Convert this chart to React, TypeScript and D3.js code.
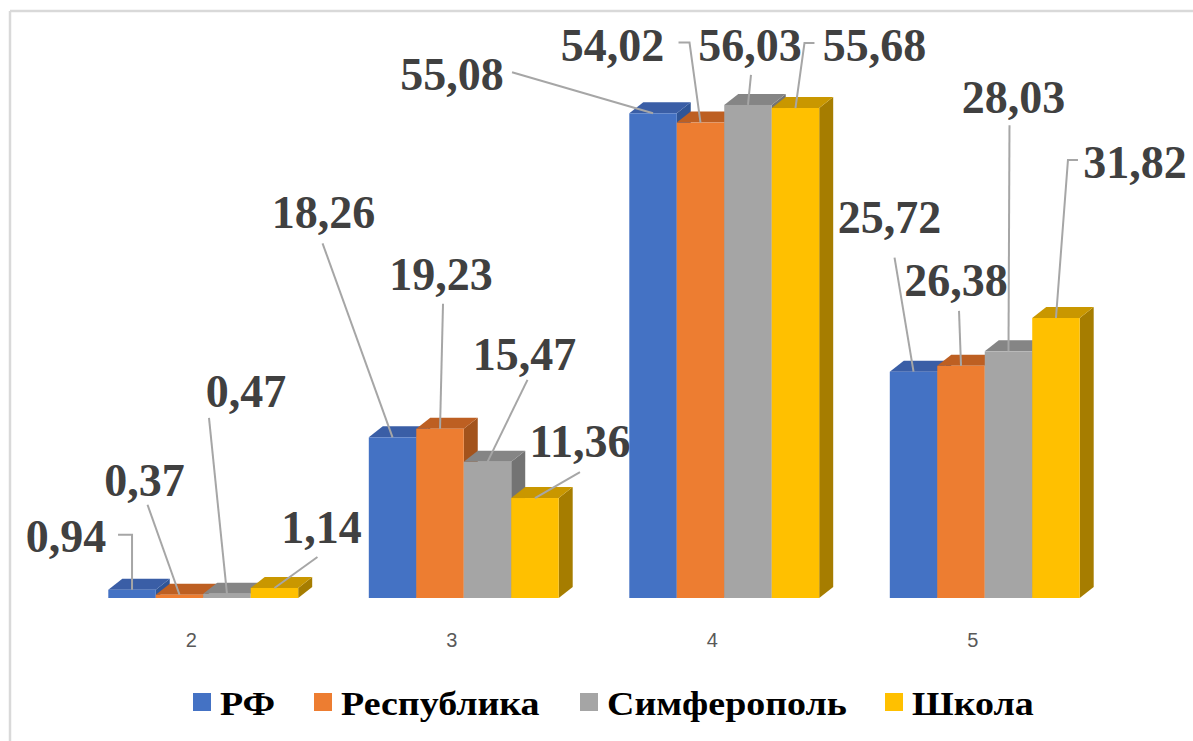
import React from 'react';
import * as d3 from 'd3';

const categories = ['2', '3', '4', '5'];
const seriesNames = ['РФ', 'Республика', 'Симферополь', 'Школа'];
const rfValues = [0.94, 18.26, 55.08, 25.72];
const respublikaValues = [0.37, 19.23, 54.02, 26.38];
const simferopolValues = [0.47, 15.47, 56.03, 28.03];
const shkolaValues = [1.14, 11.36, 55.68, 31.82];
const seriesValues = [rfValues, respublikaValues, simferopolValues, shkolaValues];

const frontColors = ['#4472C4', '#ED7D31', '#A5A5A5', '#FFC000'];
const topColors = ['#3A5EA6', '#BD5F22', '#858585', '#C99700'];
const sideColors = ['#2F5597', '#A3531C', '#737373', '#A67D00'];

// label layout: [category][series] -> text offset from bar-top anchor, leader points (relative)
type LL = { dx: number; dy: number; pts: [number, number][] };
const labelLayout: LL[][] = [
  [
    { dx: -66, dy: -38, pts: [[-14, -55], [0, -55]] },
    { dx: -35, dy: -99, pts: [[-32, -90]] },
    { dx: 19, dy: -187, pts: [[-18, -176]] },
    { dx: 47, dy: -45, pts: [[43, -31]] },
  ],
  [
    { dx: -69, dy: -209, pts: [[-70, -194]] },
    { dx: 1, dy: -139, pts: [[3, -125]] },
    { dx: 37, dy: -92, pts: [[40, -82]] },
    { dx: 45, dy: -41, pts: [[45, -26]] },
  ],
  [
    { dx: -201, dy: -23, pts: [[-141, -41]] },
    { dx: -88, dy: -62, pts: [[-22, -80], [-11, -80]] },
    { dx: 2, dy: -44, pts: [[3, -30]] },
    { dx: 79, dy: -47, pts: [[19, -65], [9, -65]] },
  ],
  [
    { dx: -24, dy: -139, pts: [[-19, -114]] },
    { dx: -5, dy: -70, pts: [[-2, -55]] },
    { dx: 5, dy: -238, pts: [[1, -226]] },
    { dx: 79, dy: -140, pts: [[22, -158], [12, -158]] },
  ],
];

const legendX = [193, 314, 580, 885];

const fmt = (v: number) => d3.format('.2f')(v).replace('.', ',');

export default function App() {
  const W = 1193;
  const H = 741;
  const x = d3
    .scaleBand<string>()
    .domain(categories)
    .range([73, 1115])
    .paddingInner(0.271)
    .paddingOuter(0.1355);
  const xs = d3.scaleBand<string>().domain(seriesNames).range([0, x.bandwidth()]);
  const y = d3.scaleLinear().domain([0, 60]).range([598, 70]);
  const DX = 14;
  const DY = -11;
  const line = d3.line();

  const bars: JSX.Element[] = [];
  const leaders: JSX.Element[] = [];
  const texts: JSX.Element[] = [];

  categories.forEach((cat, ci) => {
    seriesNames.forEach((name, si) => {
      const v = seriesValues[si][ci];
      const x0 = (x(cat) as number) + (xs(name) as number);
      const w = xs.bandwidth();
      const yt = y(v);
      const yb = y(0);
      const side = [
        [x0 + w, yt],
        [x0 + w + DX, yt + DY],
        [x0 + w + DX, yb + DY],
        [x0 + w, yb],
      ];
      const top = [
        [x0, yt],
        [x0 + DX, yt + DY],
        [x0 + w + DX, yt + DY],
        [x0 + w, yt],
      ];
      bars.push(
        <g key={`b${ci}-${si}`}>
          <polygon points={side.map((p) => p.join(',')).join(' ')} fill={sideColors[si]} />
          <polygon points={top.map((p) => p.join(',')).join(' ')} fill={topColors[si]} />
          <rect x={x0} y={yt} width={w} height={yb - yt} fill={frontColors[si]} />
        </g>
      );
      const ax = x0 + w / 2;
      const ay = yt;
      const ll = labelLayout[ci][si];
      const pts: [number, number][] = ll.pts.map((p) => [ax + p[0], ay + p[1]]);
      pts.push([ax, ay]);
      leaders.push(
        <path key={`l${ci}-${si}`} d={line(pts) || ''} fill="none" stroke="#A6A6A6" strokeWidth={2} />
      );
      texts.push(
        <text
          key={`t${ci}-${si}`}
          x={ax + ll.dx}
          y={ay + ll.dy}
          textAnchor="middle"
          fontFamily="'Liberation Serif', 'Times New Roman', serif"
          fontWeight="bold"
          fontSize={46}
          fill="#404040"
        >
          {fmt(v)}
        </text>
      );
    });
  });

  return (
    <div style={{ position: 'fixed', left: 0, top: 0 }}>
      <svg width={W} height={H} style={{ display: 'block', background: '#fff' }}>
        <line x1={10} y1={11} x2={W} y2={11} stroke="#D9D9D9" strokeWidth={2.5} />
        <line x1={10} y1={11} x2={10} y2={H} stroke="#D9D9D9" strokeWidth={2.5} />
        {bars}
        {leaders}
        {texts}
        {categories.map((cat) => (
          <text
            key={`c${cat}`}
            x={(x(cat) as number) + x.bandwidth() / 2 - 12}
            y={647}
            textAnchor="middle"
            fontFamily="'Liberation Sans', Arial, sans-serif"
            fontSize={20}
            fill="#595959"
          >
            {cat}
          </text>
        ))}
        {seriesNames.map((name, si) => (
          <g key={`lg${si}`}>
            <rect x={legendX[si]} y={693} width={18} height={18} fill={frontColors[si]} />
            <text
              transform={`translate(${legendX[si] + 27},715) scale(1.15,1)`}
              fontFamily="'Liberation Serif', 'Times New Roman', serif"
              fontWeight="bold"
              fontSize={33}
              fill="#000"
            >
              {name}
            </text>
          </g>
        ))}
      </svg>
    </div>
  );
}
